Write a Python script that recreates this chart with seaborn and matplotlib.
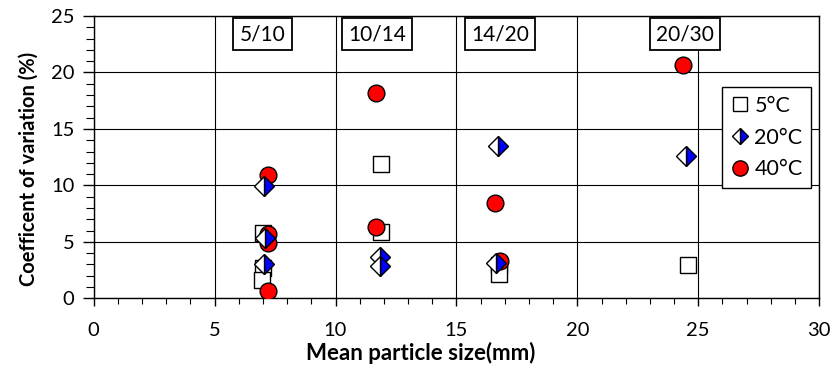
import numpy as np
import pandas as pd
import seaborn as sns
import matplotlib.pyplot as plt
from matplotlib.lines import Line2D
from matplotlib.ticker import MultipleLocator

# readings taken off the chart: mean particle size (mm) vs CV (%)
x_5c = [7.01, 7.0, 6.98, 11.9, 11.9, 16.76, 16.76, 24.59]
cv_5c = [5.76, 2.66, 1.62, 11.88, 5.9, 2.95, 2.12, 2.92]

x_20c = [7.05, 7.1, 7.05, 11.83, 11.83, 16.72, 16.62, 24.5]
cv_20c = [9.98, 5.32, 3.01, 3.69, 2.86, 13.5, 3.1, 12.62]

x_40c = [7.19, 7.19, 7.19, 7.19, 11.69, 11.69, 16.6, 16.79, 24.38]
cv_40c = [10.93, 5.67, 4.87, 0.65, 18.17, 6.29, 8.45, 3.34, 20.62]

size_labels = ["5/10", "10/14", "14/20", "20/30"]
label_x = [6.98, 11.72, 16.8, 24.46]

sns.set_style("ticks")
plt.rcParams["font.family"] = ["Lato", "DejaVu Sans"]
plt.rcParams["text.color"] = "black"
plt.rcParams["axes.labelcolor"] = "black"

fig, ax = plt.subplots(figsize=(8.35, 3.72), dpi=100)
fig.subplots_adjust(left=0.1122, right=0.981, bottom=0.198, top=0.957)

ax.grid(True, which="major", color="black", linewidth=0.8)
ax.set_axisbelow(True)

df5 = pd.DataFrame({"x": x_5c, "cv": cv_5c})
df40 = pd.DataFrame({"x": x_40c, "cv": cv_40c})

sns.scatterplot(data=df5, x="x", y="cv", marker="s", s=145, color="white",
                edgecolor="black", linewidth=1, ax=ax, zorder=3)
sns.scatterplot(data=df40, x="x", y="cv", marker="o", s=145, color="red",
                edgecolor="black", linewidth=1, ax=ax, zorder=4)
ax.plot(x_20c, cv_20c, linestyle="", marker="D", markersize=10, fillstyle="right",
        markerfacecolor="#0000ff", markerfacecoloralt="white",
        markeredgecolor="black", markeredgewidth=1, zorder=5)

for lab, lx in zip(size_labels, label_x):
    ax.text(lx, 23.4, lab, ha="center", va="center", fontsize=15,
            bbox=dict(boxstyle="square,pad=0.3", facecolor="white",
                      edgecolor="black", linewidth=1.3), zorder=6)

ax.set_xlim(0, 30)
ax.set_ylim(0, 25)
ax.xaxis.set_major_locator(MultipleLocator(5))
ax.xaxis.set_minor_locator(MultipleLocator(1))
ax.yaxis.set_major_locator(MultipleLocator(5))
ax.yaxis.set_minor_locator(MultipleLocator(1))
ax.tick_params(which="major", length=6, width=1, labelsize=14.5, colors="black")
ax.tick_params(which="minor", length=4, width=0.8, colors="black")
ax.tick_params(axis="x", which="major", pad=11)
ax.tick_params(axis="y", which="major", length=8, pad=6)
ax.tick_params(axis="y", which="minor", length=6)

for sp in ax.spines.values():
    sp.set_visible(True)
    sp.set_color("black")
    sp.set_linewidth(1)

ax.set_xlabel("Mean particle size(mm)", fontsize=16, fontweight="bold", labelpad=0)
ax.xaxis.set_label_coords(0.451, -0.155)
ax.set_ylabel("Coefficent of variation (%)", fontsize=14.5, fontweight="bold")
ax.yaxis.set_label_coords(-0.076, 0.46)

handles = [
    Line2D([], [], linestyle="", marker="s", markersize=10.5, markerfacecolor="white",
           markeredgecolor="black"),
    Line2D([], [], linestyle="", marker="D", markersize=8.5, fillstyle="right",
           markerfacecolor="#0000ff", markerfacecoloralt="white", markeredgecolor="black"),
    Line2D([], [], linestyle="", marker="o", markersize=11, markerfacecolor="red",
           markeredgecolor="black"),
]
leg = ax.legend(handles, ["5°C", "20°C", "40°C"], loc="upper right",
                bbox_to_anchor=(0.989, 0.748), borderaxespad=0, fontsize=15.5,
                frameon=True, fancybox=False, edgecolor="black", handlelength=0.9,
                handletextpad=0.2, labelspacing=0.55, borderpad=0.4, framealpha=1)
leg.get_frame().set_linewidth(1)
leg.set_zorder(7)

plt.savefig("out.png", dpi=100)
